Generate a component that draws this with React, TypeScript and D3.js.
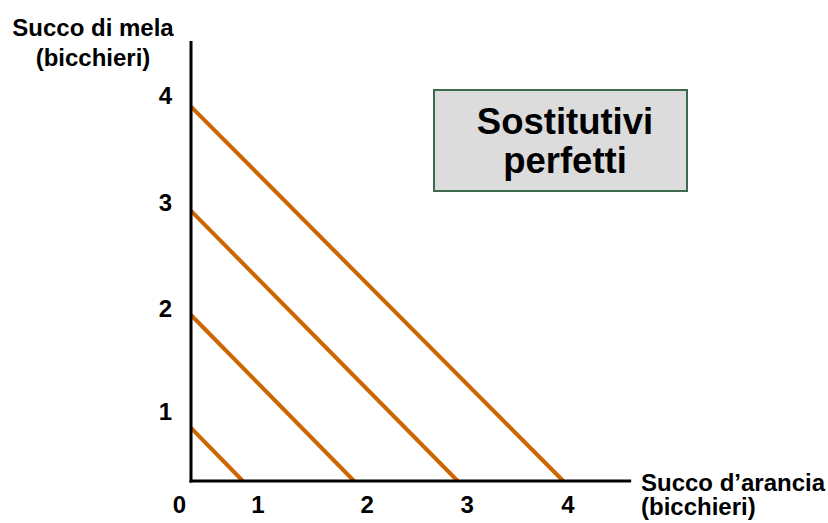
import React from "react";
import * as d3 from "d3";

// ---- data ----
const curveNames = ["U1", "U2", "U3", "U4"];
const curveXIntercepts = [0.55, 1.73, 2.83, 3.95];
const curveYIntercepts = [0.55, 1.72, 2.80, 3.88];
const xTickValues = [0.71, 1.87, 2.93, 4.0];
const xTickLabels = ["1", "2", "3", "4"];
const yTickValues = [0.72, 1.79, 2.89, 4.0];
const yTickLabels = ["1", "2", "3", "4"];
const originLabel = "0";
const yAxisTitle = ["Succo di mela", "(bicchieri)"];
const xAxisTitle = ["Succo d\u2019arancia", "(bicchieri)"];
const boxText = ["Sostitutivi", "perfetti"];

const W = 828;
const H = 523;
const FONT = "'Liberation Sans', Arial, Helvetica, sans-serif";
const ORANGE = "#cc6600";

export default function App() {
  const x = d3.scaleLinear().domain([0, 4]).range([191, 568]);
  const y = d3.scaleLinear().domain([0, 4]).range([481, 95]);
  const xMax = 4.67;
  const yMax = 4.56;

  const line = d3
    .line<[number, number]>()
    .x((d) => x(d[0]))
    .y((d) => y(d[1]));

  return (
    <svg
      width={W}
      height={H}
      style={{ position: "absolute", left: 0, top: 0, background: "#fff" }}
      fontFamily={FONT}
      fontWeight="bold"
    >
      {/* indifference lines */}
      {curveNames.map((n, i) => (
        <path
          key={n}
          d={line([
            [0, curveYIntercepts[i]],
            [curveXIntercepts[i], 0],
          ]) as string}
          stroke={ORANGE}
          strokeWidth={4}
          fill="none"
        />
      ))}

      {/* axes */}
      <line x1={x(0)} x2={x(0)} y1={y(yMax)} y2={y(0) + 1.5} stroke="#000" strokeWidth={3} />
      <line x1={x(0) - 1.5} x2={x(xMax)} y1={y(0)} y2={y(0)} stroke="#000" strokeWidth={3} />

      {/* y tick labels */}
      {yTickValues.map((v, i) => (
        <text
          key={"y" + i}
          x={x(0) - 19}
          y={y(v)}
          dy="0.36em"
          textAnchor="end"
          fontSize={24}
        >
          {yTickLabels[i]}
        </text>
      ))}

      {/* x tick labels */}
      {xTickValues.map((v, i) => (
        <text key={"x" + i} x={x(v)} y={513} textAnchor="middle" fontSize={24}>
          {xTickLabels[i]}
        </text>
      ))}
      <text x={x(0) - 11.5} y={513} textAnchor="middle" fontSize={24}>
        {originLabel}
      </text>

      {/* axis titles */}
      <text x={93} y={36} textAnchor="middle" fontSize={24}>
        {yAxisTitle[0]}
      </text>
      <text x={93} y={65.5} textAnchor="middle" fontSize={24}>
        {yAxisTitle[1]}
      </text>
      <text x={641} y={490.5} textAnchor="start" fontSize={24}>
        {xAxisTitle[0]}
      </text>
      <text x={641} y={515} textAnchor="start" fontSize={24}>
        {xAxisTitle[1]}
      </text>

      {/* annotation box */}
      <rect x={434} y={90} width={253} height={101} fill="#dcdcdc" stroke="#3d6a4c" strokeWidth={2} />
      <text x={565} y={134} textAnchor="middle" fontSize={36.5}>
        {boxText[0]}
      </text>
      <text x={565} y={172.5} textAnchor="middle" fontSize={36.5}>
        {boxText[1]}
      </text>
    </svg>
  );
}
